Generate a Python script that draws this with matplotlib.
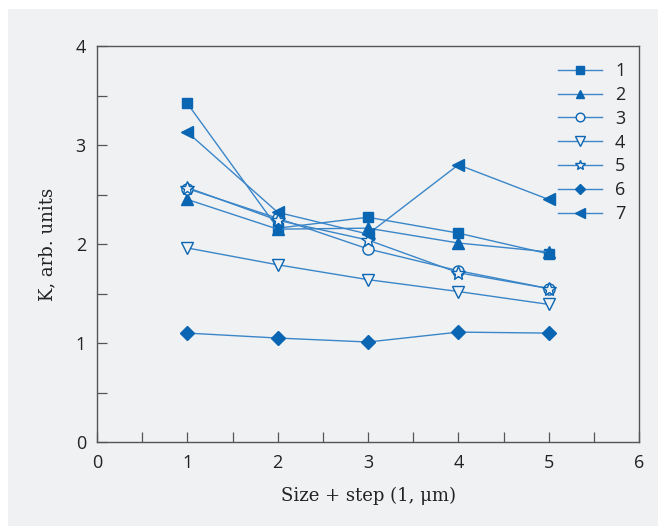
import matplotlib
matplotlib.use("Agg")
import matplotlib.pyplot as plt
from matplotlib.patches import Rectangle
from matplotlib.ticker import MultipleLocator

x = [1, 2, 3, 4, 5]
s1 = [3.42, 2.16, 2.27, 2.11, 1.90]
s2 = [2.45, 2.15, 2.16, 2.01, 1.92]
s3 = [2.56, 2.26, 1.95, 1.73, 1.55]
s4 = [1.96, 1.79, 1.64, 1.52, 1.39]
s5 = [2.57, 2.24, 2.04, 1.71, 1.55]
s6 = [1.10, 1.05, 1.01, 1.11, 1.10]
s7 = [3.13, 2.32, 2.10, 2.80, 2.45]
series = [s1, s2, s3, s4, s5, s6, s7]
labels = ["1", "2", "3", "4", "5", "6", "7"]
markers = ["s", "^", "o", "v", "*", "D", "<"]
filled = [True, True, False, False, False, True, True]
sizes = [7, 8, 8, 9, 10, 7, 9]

line_c = "#3a86c8"
mark_c = "#0a65b2"
bg = "#f0f1f3"

fig = plt.figure(figsize=(6.58, 5.26), dpi=100)
fig.patch.set_facecolor("white")
fig.patches.append(Rectangle((8 / 658, 0), 1, 1 - 9 / 526, transform=fig.transFigure,
                             facecolor=bg, edgecolor="none", zorder=-10))
ax = fig.add_axes([97 / 658, 1 - 442 / 526, (639 - 97) / 658, (442 - 46) / 526])
ax.set_facecolor(bg)

for ys, lab, m, f, ms in zip(series, labels, markers, filled, sizes):
    ax.plot(x, ys, color=line_c, lw=1.0, marker=m, markersize=ms,
            markerfacecolor=mark_c if f else bg, markeredgecolor=mark_c,
            markeredgewidth=1.0, label=lab)

ax.set_xlim(0, 6)
ax.set_ylim(0, 4)
ax.xaxis.set_major_locator(MultipleLocator(1))
ax.xaxis.set_minor_locator(MultipleLocator(0.5))
ax.yaxis.set_major_locator(MultipleLocator(1))
ax.yaxis.set_minor_locator(MultipleLocator(0.5))
ax.tick_params(which="both", direction="in", length=7, width=0.9, color="#555555",
               top=False, right=False)
ax.tick_params(axis="x", which="major", pad=9)
ax.tick_params(axis="y", which="major", pad=8)
for sp in ax.spines.values():
    sp.set_color("#555555")
    sp.set_linewidth(1.0)

tickfont = "Open Sans"
for t in ax.get_xticklabels() + ax.get_yticklabels():
    t.set_fontfamily(tickfont)
    t.set_fontsize(13)
    t.set_color("#222222")

ax.set_xlabel("Size + step (1, μm)", fontsize=13, family="DejaVu Serif", color="#222222", labelpad=10)
ax.set_ylabel("K, arb. units", fontsize=13, family="DejaVu Serif", color="#222222", labelpad=14)

leg = ax.legend(loc="upper right", bbox_to_anchor=(1.005, 1.0), frameon=False,
                handlelength=2.4, labelspacing=0.32, handletextpad=0.75,
                markerscale=0.78, prop={"family": tickfont, "size": 13})
for t in leg.get_texts():
    t.set_color("#222222")

fig.savefig("out.png", dpi=100, facecolor=fig.get_facecolor())
